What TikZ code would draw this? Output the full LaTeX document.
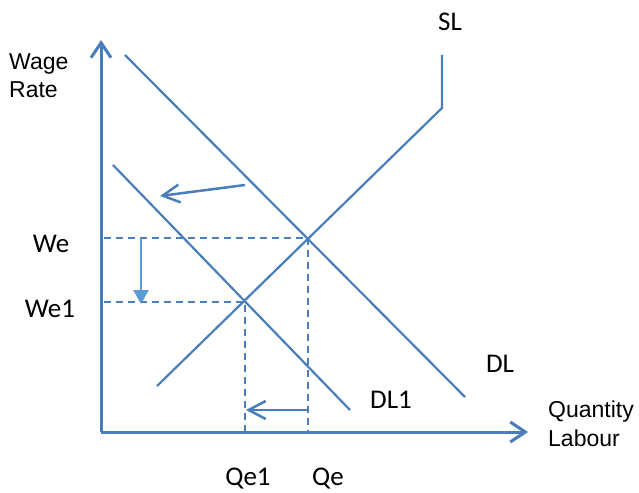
\documentclass[tikz,border=0pt]{standalone}
\usepackage{fontspec}
\setmainfont{Carlito}
\newfontfamily\arialfont{Liberation Sans}
\usetikzlibrary{arrows.meta}
\definecolor{lineblue}{HTML}{4A7EBB}
\definecolor{arrowblue}{HTML}{5B9BD5}
\tikzset{
  axis/.style={lineblue, line width=3pt, -{Straight Barb[length=15pt,width=20pt]}},
  curve/.style={lineblue, line width=2.2pt},
  guide/.style={lineblue, line width=2pt, dash pattern=on 7pt off 5pt},
  movearrow/.style={lineblue, line width=2.5pt, -{Straight Barb[length=17pt,width=18pt]}},
  droparrow/.style={arrowblue, line width=2.5pt, -{Triangle[length=14pt,width=15pt]}},
  lab/.style={anchor=base, inner sep=0pt, font=\fontsize{27}{32}\selectfont},
  axlab/.style={anchor=base west, inner sep=0pt, align=left,
    font=\arialfont\fontsize{23}{28.5}\selectfont}
}
\begin{document}
\begin{tikzpicture}[x=1pt,y=-1pt]
    \useasboundingbox (0,0) rectangle (639,492);
    % Axes
    \coordinate (O) at (101,432);
    \coordinate (ytop) at (101,40);
    \coordinate (xend) at (528,432);
    \draw[axis] (O) -- (ytop);
    \draw[axis] (O) -- (xend);
    \node[axlab] (wage) at (9,98) {Wage\\Rate};
    \node[axlab] (qty) at (548,446) {Quantity\\Labour};
    % Supply and demand curves
    \coordinate (SLa) at (157,386);
    \coordinate (SLb) at (442,108);
    \coordinate (SLc) at (442,55);
    \draw[curve] (SLa) -- (SLb) -- (SLc);
    \coordinate (DLa) at (125,55);
    \coordinate (DLb) at (465,397);
    \draw[curve] (DLa) -- (DLb);
    \coordinate (DLia) at (113,165);
    \coordinate (DLib) at (350,410);
    \draw[curve] (DLia) -- (DLib);
    \node[lab] (sl) at (450,31) {SL};
    \node[lab] (dl) at (500,372) {DL};
    \node[lab] (dli) at (391,408) {DL1};
    % Equilibria
    \coordinate (E) at (308,238);
    \coordinate (Ei) at (245,302);
    \coordinate (We) at (104,238);
    \coordinate (Wei) at (104,302);
    \coordinate (Qe) at (308,432);
    \coordinate (Qei) at (245,432);
    \draw[guide] (We) -- (E) -- (Qe);
    \draw[guide] (Wei) -- (Ei) -- (Qei);
    \node[lab] (we) at (51,252) {We};
    \node[lab] (wei) at (50,317) {We1};
    \node[lab] (qei) at (248,485) {Qe1};
    \node[lab] (qe) at (328,485) {Qe};
    % Shift arrows
    \coordinate (sa) at (245,185);
    \coordinate (sb) at (160,196);
    \draw[movearrow] (sa) -- (sb);
    \coordinate (da) at (141,238);
    \coordinate (db) at (141,304);
    \draw[droparrow] (da) -- (db);
    \coordinate (qa) at (308,410);
    \coordinate (qb) at (246,410);
    \draw[movearrow] (qa) -- (qb);
\end{tikzpicture}
\end{document}
